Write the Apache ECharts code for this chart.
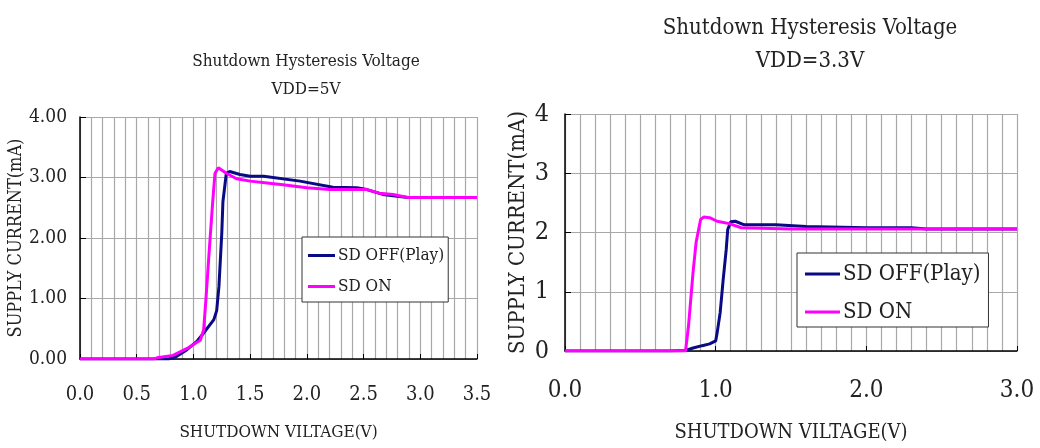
<!DOCTYPE html>
<html>
<head>
<meta charset="utf-8">
<script src="https://cdn.jsdelivr.net/npm/echarts@6/dist/echarts.min.js"></script>
<style>
  html, body { margin: 0; padding: 0; background: #fff; }
  #chart { width: 1040px; height: 448px; }
</style>
</head>
<body>
<div id="chart"></div>
<script>
// VDD = 5V
var off5V = [0, 0.78, 0.85, 0.94, 1.03, 1.09, 1.18, 1.205, 1.225, 1.25, 1.26, 1.29, 1.32, 1.41, 1.50, 1.62, 1.94, 2.23, 2.44, 2.53, 2.67, 2.89, 3.5];
var off5I = [0, 0, 0.04, 0.15, 0.29, 0.43, 0.65, 0.80, 1.20, 2.08, 2.60, 3.07, 3.10, 3.05, 3.02, 3.02, 2.94, 2.84, 2.83, 2.80, 2.72, 2.67, 2.67];
var on5V = [0, 0.65, 0.68, 0.82, 0.94, 1.06, 1.09, 1.11, 1.14, 1.17, 1.19, 1.22, 1.29, 1.38, 1.50, 1.65, 1.79, 2.00, 2.20, 2.53, 2.64, 2.76, 2.89, 3.5];
var on5I = [0, 0, 0.02, 0.06, 0.17, 0.31, 0.48, 0.98, 1.81, 2.60, 3.07, 3.16, 3.07, 2.98, 2.94, 2.91, 2.88, 2.83, 2.80, 2.80, 2.74, 2.72, 2.67, 2.67];

// VDD = 3.3V
var off33V = [0, 0.70, 0.80, 0.85, 0.91, 0.96, 1.00, 1.01, 1.03, 1.05, 1.07, 1.08, 1.10, 1.13, 1.19, 1.40, 1.60, 2.00, 2.30, 2.40, 3.0];
var off33I = [0, 0, 0.01, 0.05, 0.09, 0.12, 0.17, 0.31, 0.65, 1.21, 1.71, 2.05, 2.18, 2.19, 2.13, 2.13, 2.10, 2.08, 2.08, 2.06, 2.06];
var on33V = [0, 0.80, 0.82, 0.85, 0.87, 0.90, 0.92, 0.96, 1.01, 1.09, 1.17, 1.50, 3.0];
var on33I = [0, 0, 0.43, 1.33, 1.83, 2.22, 2.26, 2.25, 2.19, 2.15, 2.08, 2.06, 2.06];

var seriesNames = ['SD OFF(Play)', 'SD ON'];
var titleText = 'Shutdown Hysteresis Voltage';
var xName = 'SHUTDOWN VILTAGE(V)';
var yName = 'SUPPLY CURRENT(mA)';

var FONT = '"DejaVu Serif Condensed", "Liberation Serif", serif';
var NAVY = '#0a0a84';
var PINK = '#ff00ff';
var GRIDC = '#a8a8a8';

function zip(xs, ys) {
    var out = [];
    for (var i = 0; i < xs.length; i++) out.push([xs[i], ys[i]]);
    return out;
}

function xAxisOf(gi, max, step, minorN, fs, nameFs, margin, nameGap) {
    return {
        gridIndex: gi, type: 'value', min: 0, max: max, interval: step,
        name: xName, nameLocation: 'middle', nameGap: nameGap,
        nameTextStyle: { fontFamily: FONT, fontSize: nameFs, color: '#222' },
        axisLine: { lineStyle: { color: '#000', width: 1.5 } },
        axisTick: { inside: true, length: 5, lineStyle: { color: '#000' } },
        axisLabel: { fontFamily: FONT, fontSize: fs, color: '#222', margin: margin,
            formatter: function (v) { return v.toFixed(1); } },
        splitLine: { show: true, lineStyle: { color: GRIDC, width: 1.2 } },
        minorTick: { show: false, splitNumber: minorN },
        minorSplitLine: { show: true, lineStyle: { color: GRIDC, width: 1.2 } }
    };
}

function yAxisOf(gi, dec, fs, nameFs, margin, nameGap) {
    return {
        gridIndex: gi, type: 'value', min: 0, max: 4, interval: 1,
        name: yName, nameLocation: 'middle', nameGap: nameGap,
        nameTextStyle: { fontFamily: FONT, fontSize: nameFs, color: '#222' },
        axisLine: { show: true, lineStyle: { color: '#000', width: 1.5 } },
        axisTick: { show: true, inside: true, length: 6, lineStyle: { color: '#000' } },
        axisLabel: { fontFamily: FONT, fontSize: fs, color: '#222', margin: margin,
            formatter: function (v) { return v.toFixed(dec); } },
        splitLine: { show: true, lineStyle: { color: GRIDC, width: 1.2 } }
    };
}

function lineSeries(name, data, idx, color) {
    return {
        name: name, type: 'line', xAxisIndex: idx, yAxisIndex: idx,
        data: data, showSymbol: false, symbol: 'none', animation: false,
        lineStyle: { color: color, width: 3 }, itemStyle: { color: color }
    };
}

var chart = echarts.init(document.getElementById('chart'));
chart.setOption({
    backgroundColor: '#fff',
    animation: false,
    title: [{
        text: titleText + '\nVDD=5V', left: 301, top: 43, textAlign: 'center',
        textStyle: { fontFamily: FONT, fontSize: 17, fontWeight: 'normal', color: '#222', lineHeight: 28 }
    }, {
        text: titleText + '\nVDD=3.3V', left: 805, top: 7, textAlign: 'center',
        textStyle: { fontFamily: FONT, fontSize: 22, fontWeight: 'normal', color: '#222', lineHeight: 33 }
    }],
    legend: [{
        data: seriesNames, orient: 'vertical', left: 302, top: 237,
        padding: [10, 4, 7, 6], itemGap: 14, itemWidth: 27, itemHeight: 3, icon: 'rect',
        borderColor: '#333', borderWidth: 1, backgroundColor: '#fff',
        textStyle: { fontFamily: FONT, fontSize: 17, color: '#222', padding: [0, 0, 0, -2] }
    }, {
        data: seriesNames, orient: 'vertical', left: 797, top: 253,
        padding: [10, 8, 4, 8], itemGap: 16, itemWidth: 35, itemHeight: 3, icon: 'rect',
        borderColor: '#333', borderWidth: 1, backgroundColor: '#fff',
        textStyle: { fontFamily: FONT, fontSize: 22, color: '#222', padding: [0, 0, 0, -2] }
    }],
    grid: [
        { left: 80, top: 117, width: 397, height: 242 },
        { left: 565, top: 114, width: 452, height: 238 }
    ],
    xAxis: [xAxisOf(0, 3.5, 0.5, 5, 20, 17, 26, 65), xAxisOf(1, 3.0, 1, 10, 24, 20, 28, 72)],
    yAxis: [yAxisOf(0, 2, 19, 18, 13, 52), yAxisOf(1, 0, 25, 22, 16, 36)],
    series: [
        lineSeries(seriesNames[0], zip(off5V, off5I), 0, NAVY),
        lineSeries(seriesNames[1], zip(on5V, on5I), 0, PINK),
        lineSeries(seriesNames[0], zip(off33V, off33I), 1, NAVY),
        lineSeries(seriesNames[1], zip(on33V, on33I), 1, PINK)
    ]
});
</script>
</body>
</html>
